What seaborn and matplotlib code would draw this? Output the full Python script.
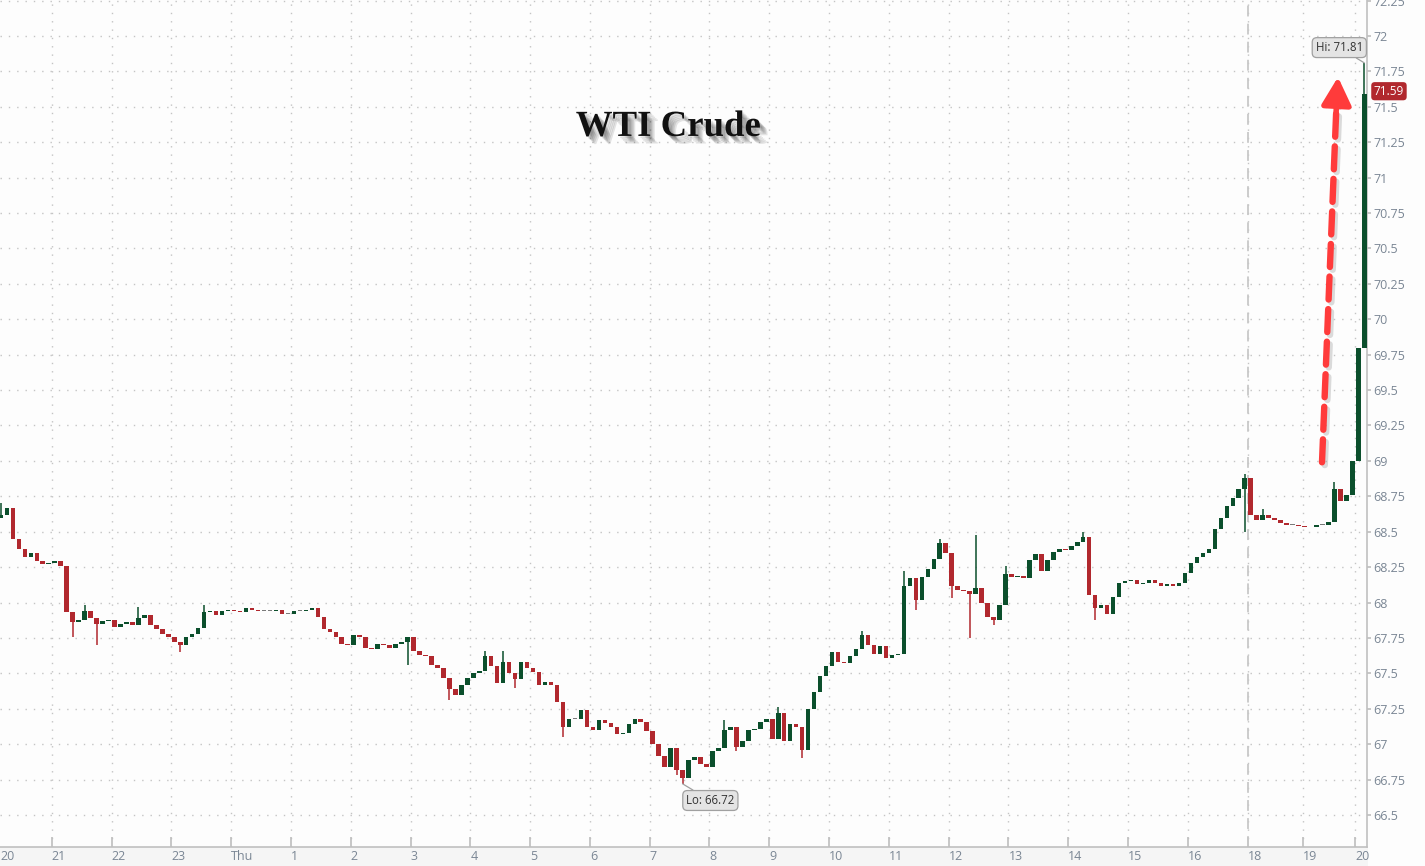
import numpy as np
import pandas as pd
import seaborn as sns
import matplotlib.pyplot as plt
import matplotlib.patheffects as pe
from matplotlib.patches import Rectangle
from matplotlib.transforms import blended_transform_factory

# %%
# Data - WTI crude, intraday closes (one bar = 0.1 session)
t_start = 0.15
t_step = 0.1

closes = [
    68.62, 68.67, 68.45, 68.38, 68.32, 68.35, 68.29, 68.27, 68.28, 68.29,
    68.26, 67.93, 67.86, 67.88, 67.94, 67.89, 67.85, 67.87, 67.88, 67.83,
    67.85, 67.86, 67.84, 67.89, 67.91, 67.84, 67.81, 67.78, 67.76, 67.72,
    67.70, 67.76, 67.78, 67.82, 67.93, 67.94, 67.91, 67.94, 67.95, 67.94,
    67.93, 67.96, 67.95, 67.94, 67.94, 67.94, 67.95, 67.92, 67.92, 67.94,
    67.94, 67.95, 67.96, 67.90, 67.81, 67.79, 67.76, 67.71, 67.70, 67.77,
    67.76, 67.68, 67.67, 67.71, 67.70, 67.68, 67.71, 67.72, 67.76, 67.66,
    67.63, 67.62, 67.56, 67.54, 67.47, 67.39, 67.35, 67.42, 67.47, 67.50,
    67.52, 67.62, 67.55, 67.43, 67.58, 67.50, 67.46, 67.58, 67.54, 67.51,
    67.42, 67.44, 67.42, 67.30, 67.12, 67.18, 67.18, 67.24, 67.12, 67.10,
    67.17, 67.15, 67.12, 67.07, 67.08, 67.14, 67.18, 67.16, 67.09, 67.00,
    66.92, 66.84, 66.97, 66.82, 66.76, 66.89, 66.91, 66.86, 66.84, 66.95,
    66.97, 67.10, 67.12, 66.98, 67.02, 67.10, 67.11, 67.16, 67.18, 67.04,
    67.22, 67.02, 67.14, 67.12, 66.96, 67.25, 67.37, 67.48, 67.55, 67.65,
    67.58, 67.57, 67.62, 67.67, 67.77, 67.70, 67.64, 67.69, 67.61, 67.63,
    67.64, 68.12, 68.17, 68.02, 68.18, 68.24, 68.31, 68.42, 68.35, 68.12,
    68.09, 68.08, 68.06, 68.10, 68.00, 67.90, 67.88, 67.98, 68.20, 68.18,
    68.19, 68.17, 68.30, 68.34, 68.22, 68.30, 68.36, 68.38, 68.37, 68.40,
    68.43, 68.46, 68.05, 67.96, 67.98, 67.92, 68.04, 68.14, 68.15, 68.16,
    68.13, 68.14, 68.16, 68.14, 68.12, 68.13, 68.12, 68.14, 68.21, 68.28,
    68.32, 68.35, 68.38, 68.52, 68.60, 68.68, 68.74, 68.80, 68.88, 68.62,
    68.58, 68.62, 68.60, 68.58, 68.56, 68.55, 68.55, 68.54, 68.53, 68.53,
    68.55, 68.55, 68.57, 68.80, 68.72, 68.76, 69.00, 69.80, 71.59,
]
first_open = 68.60

# wick extremes that stick out beyond the bodies (bar index -> price)
wick_highs = {0: 68.70, 14: 67.98, 23: 67.97, 34: 67.98, 81: 67.66, 84: 67.66, 121: 67.17,
              130: 67.26, 144: 67.80, 151: 68.22, 157: 68.45, 163: 68.48, 168: 68.26,
              181: 68.50, 208: 68.91, 211: 68.66, 223: 68.85, 228: 71.81}
wick_lows = {12: 67.76, 16: 67.70, 30: 67.65, 68: 67.56, 75: 67.31, 86: 67.40, 94: 67.05,
             113: 66.78, 114: 66.72, 123: 66.95, 134: 66.90, 153: 67.95, 159: 68.03,
             162: 67.75, 166: 67.84, 183: 67.88, 208: 68.50}

tick_pos = [1, 2, 3, 4, 5, 6, 7, 8, 9, 10, 11, 12, 13, 14, 15, 16, 17, 18, 19, 20, 21, 21.92, 22.8]
tick_labels = ['21', '22', '23', 'Thu', '1', '2', '3', '4', '5', '6', '7', '8', '9',
               '10', '11', '12', '13', '14', '15', '16', '18', '19', '20']
first_label = '20'
session_break = 21  # dashed line at "18"

hi_value = 71.81
lo_value = 66.72
last_value = 71.59

# %%
df = pd.DataFrame({'close': closes})
df['t'] = t_start + t_step * np.arange(len(df))
df['open'] = df['close'].shift(1).fillna(first_open)
df['high'] = df[['open', 'close']].max(axis=1)
df['low'] = df[['open', 'close']].min(axis=1)
for i, v in wick_highs.items():
    df.loc[i, 'high'] = v
for i, v in wick_lows.items():
    df.loc[i, 'low'] = v

GREEN = '#0b4f2c'
RED = '#b1282e'
GREY = '#7a7a7a'
df['color'] = np.where(df['close'] > df['open'] + 0.004, GREEN,
                       np.where(df['close'] < df['open'] - 0.004, RED, GREY))

# %%
sns.set_theme(style='white')
plt.rcParams['font.family'] = ['Open Sans', 'DejaVu Sans']

fig = plt.figure(figsize=(14.25, 8.66), dpi=100, facecolor='#fdfdfd')
ax = fig.add_axes([0, 19 / 866, 1367 / 1425, 847 / 866])
ax.set_facecolor('#fdfdfd')
# light band under the time axis (drawn behind the axes)
fig.patches.append(Rectangle((0, 0), 1368 / 1425, 19 / 866, transform=fig.transFigure,
                             facecolor='#f5f5f5', edgecolor='none', zorder=-5))

x0 = (0 - 51.7) / 59.8 + 1
x1 = (1367 - 51.7) / 59.8 + 1
ax.set_xlim(x0, x1)
ax.set_ylim(66.274, 72.254)

# grid
ax.set_xticks(tick_pos)
ax.set_xticklabels(tick_labels, ha='left')
ax.set_yticks(np.arange(66.5, 72.26, 0.25))
ax.set_yticklabels([f'{v:g}' for v in np.arange(66.5, 72.26, 0.25)])
ax.grid(True, linestyle=(0, (1, 5)), color='#c4c4c4', linewidth=1.0)
ax.axvline(session_break, color='#c8c8c8', linestyle=(0, (6, 4)), linewidth=1.3, zorder=1)

# candles
ax.vlines(df['t'], df['low'], df['high'], colors=df['color'], linewidth=1.1, zorder=3)
body = (df['close'] - df['open']).abs().clip(lower=0.006)
ax.bar(df['t'], body, bottom=df[['open', 'close']].min(axis=1), width=0.075,
       color=df['color'], linewidth=0, zorder=3)

# axes styling
for s in ['top', 'left']:
    ax.spines[s].set_visible(False)
for s in ['right', 'bottom']:
    ax.spines[s].set_color('#c0c0c0')
    ax.spines[s].set_linewidth(1.2)
ax.yaxis.tick_right()
ax.tick_params(axis='y', which='both', right=True, length=3, color='#c0c0c0',
               labelsize=9, labelcolor='#7a8694', pad=1.5)
ax.tick_params(axis='x', which='both', bottom=True, direction='in', length=7, color='#c0c0c0',
               labelsize=9, labelcolor='#7a8694', pad=2.5)
ax.annotate(first_label, xy=(0.0, 0.0), xycoords='axes fraction', xytext=(0, -2.5),
            textcoords='offset points', ha='left', va='top', fontsize=9, color='#7a8694',
            annotation_clip=False)

# title with soft shadow
shadow = [pe.SimplePatchShadow(offset=(o, -o), shadow_rgbFace='#000000', alpha=0.1)
          for o in (1.5, 2.5, 3.5, 4.5, 5.5)]
fig.text(0.469, 0.854, 'WTI Crude', ha='center', va='center', fontsize=26.5,
         fontweight='bold', family='Liberation Serif', color='#111111',
         path_effects=shadow + [pe.Normal()])

# hi / lo callouts
box = dict(boxstyle='round,pad=0.3,rounding_size=0.4', facecolor='#e4e4e4',
           edgecolor='#a0a0a0', linewidth=0.9)
hi_t = df.loc[df['high'].idxmax(), 't']
lo_t = df.loc[df['low'].idxmin(), 't']
ax.annotate(f'Hi: {hi_value:.2f}', xy=(hi_t, hi_value), xytext=(-18, 11),
            textcoords='offset points', ha='center', va='center', fontsize=8.3,
            color='#333333', bbox=box,
            arrowprops=dict(arrowstyle='-', color='#a0a0a0', lw=0.9, shrinkA=0, shrinkB=0),
            zorder=6)
ax.annotate(f'Lo: {lo_value:.2f}', xy=(lo_t, lo_value), xytext=(20, -12),
            textcoords='offset points', ha='center', va='center', fontsize=8.3,
            color='#333333', bbox=box,
            arrowprops=dict(arrowstyle='-', color='#a0a0a0', lw=0.9, shrinkA=0, shrinkB=0),
            zorder=6)

# last price tag on the right axis
trans = blended_transform_factory(ax.transAxes, ax.transData)
ax.text(1.005, last_value + 0.02, f'{last_value:.2f}', transform=trans, ha='left', va='center',
        fontsize=8.5, color='white',
        bbox=dict(boxstyle='round,pad=0.22,rounding_size=0.3', facecolor='#b1282e',
                  edgecolor='none'),
        clip_on=False, zorder=7)

# red dashed arrow
arrow_start = ((1322 - 51.7) / 59.8 + 1, 68.99)
arrow_neck = ((1336.5 - 51.7) / 59.8 + 1, 71.52)
arrow_tip = ((1338 - 51.7) / 59.8 + 1, 71.71)
arrow_shadow = [pe.SimpleLineShadow(offset=(2, -2), shadow_color='#999999', alpha=0.35), pe.Normal()]
ax.plot([arrow_start[0], arrow_neck[0]], [arrow_start[1], arrow_neck[1]], color='#ff3b3b',
        linewidth=4.6, linestyle=(0, (3.6, 1.5)), solid_capstyle='butt',
        dash_capstyle='round', path_effects=arrow_shadow, zorder=5)
ax.annotate('', xy=arrow_tip, xytext=((1336 - 51.7) / 59.8 + 1, 71.45),
            arrowprops=dict(arrowstyle='-|>,head_length=1.4,head_width=0.75', color='#ff3b3b',
                            lw=4, shrinkA=0, shrinkB=0),
            zorder=5)

fig.savefig('out.png', dpi=100, facecolor=fig.get_facecolor())
